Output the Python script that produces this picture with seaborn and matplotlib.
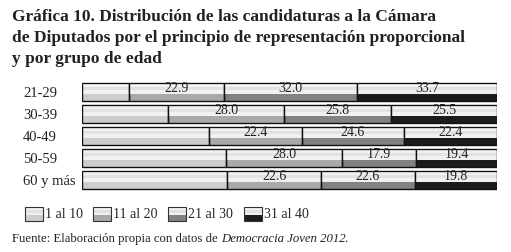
import matplotlib
matplotlib.use("Agg")
import matplotlib.pyplot as plt
import seaborn as sns
import pandas as pd
import numpy as np
from matplotlib.patches import Rectangle
from matplotlib.legend_handler import HandlerBase

grupos = ["21-29", "30-39", "40-49", "50-59", "60 y más"]
series = ["1 al 10", "11 al 20", "21 al 30", "31 al 40"]
s1 = [11.4, 20.7, 30.6, 34.7, 35.0]
s2 = [22.9, 28.0, 22.4, 28.0, 22.6]
s3 = [32.0, 25.8, 24.6, 17.9, 22.6]
s4 = [33.7, 25.5, 22.4, 19.4, 19.8]
colores = ["#cdcdcd", "#a9a9a9", "#828282", "#1c1c1c"]

sns.set_theme(style="white")
plt.rcParams["font.family"] = ["Liberation Serif", "DejaVu Serif"]

vals = np.array([s1, s2, s3, s4])
cum = np.cumsum(vals, axis=0)
lefts = cum - vals

fig = plt.figure(figsize=(5.11, 2.52), dpi=100)
ax = fig.add_axes([0.1605, 0.244, 0.812, 0.4345])

H = 0.82
for k in range(3, -1, -1):
    df = pd.DataFrame({"grupo": grupos, "valor": cum[k]})
    sns.barplot(data=df, y="grupo", x="valor", color=colores[k], orient="h",
                width=H, ax=ax, saturation=1, edgecolor="none", linewidth=0)

pos = np.arange(len(grupos))
# light glossy top part
for k in range(4):
    ax.barh(pos - H / 2, vals[k], left=lefts[k], height=H * 0.62, align="edge",
            color="#f1f1f1", linewidth=0)
    ax.barh(pos - H / 2, vals[k], left=lefts[k], height=H * 0.14, align="edge",
            color="#fbfbfb", linewidth=0)
    ax.barh(pos - H / 2 + H * 0.22, vals[k], left=lefts[k], height=H * 0.18, align="edge",
            color="#e2e2e2", linewidth=0)
    ax.barh(pos, vals[k], left=lefts[k], height=H, fill=False,
            edgecolor="#111111", linewidth=1.0)

for k in range(1, 4):
    for i in range(len(grupos)):
        ax.text(lefts[k][i] + vals[k][i] / 2, pos[i] - 0.14, f"{vals[k][i]:.1f}",
                ha="center", va="center", fontsize=10, color="#222222")

ax.set_xlim(0, 100)
ax.set_ylim(len(grupos) - 0.5, -0.5)
ax.set_xlabel("")
ax.set_ylabel("")
ax.set_xticks([])
ax.set_yticks(pos)
ax.set_yticklabels(grupos, fontsize=10.5, color="#222222", ha="left")
ax.tick_params(axis="y", length=0, pad=42.5)
for sp in ax.spines.values():
    sp.set_visible(False)


class GlossHandler(HandlerBase):
    def __init__(self, color):
        super().__init__()
        self.color = color

    def create_artists(self, legend, orig_handle, xd, yd, w, h, fontsize, trans):
        arts = []
        x0, y0 = -xd, -yd
        arts.append(Rectangle((x0, y0), w, h, facecolor=self.color, edgecolor="none", transform=trans))
        arts.append(Rectangle((x0, y0 + h * 0.4), w, h * 0.6, facecolor="#f1f1f1", edgecolor="none", transform=trans))
        arts.append(Rectangle((x0, y0 + h * 0.55), w, h * 0.2, facecolor="#e2e2e2", edgecolor="none", transform=trans))
        arts.append(Rectangle((x0, y0), w, h, facecolor="none", edgecolor="#333333", linewidth=0.8, transform=trans))
        return arts


handles = [Rectangle((0, 0), 1, 1) for _ in series]
hmap = {handles[i]: GlossHandler(colores[i]) for i in range(4)}
fig.legend(handles, series, handler_map=hmap, loc="center left",
           bbox_to_anchor=(0.048, 0.151), ncol=4, frameon=False, fontsize=10,
           handlelength=1.3, handleheight=1.2, handletextpad=0.15, columnspacing=0.75,
           borderaxespad=0, borderpad=0)

fig.text(0.024, 0.965, "Gráfica 10. Distribución de las candidaturas a la Cámara\n"
         "de Diputados por el principio de representación proporcional\n"
         "y por grupo de edad", ha="left", va="top", fontsize=12.5,
         fontweight="bold", color="#222222", linespacing=1.41)

fig.text(0.024, 0.052, "Fuente: Elaboración propia con datos de ", ha="left", va="center",
         fontsize=9.2, color="#222222")
fig.canvas.draw()
t = fig.texts[-1]
bb = t.get_window_extent(renderer=fig.canvas.get_renderer())
fig.text(bb.x1 / fig.bbox.width, 0.052, "Democracia Joven 2012", ha="left", va="center",
         fontsize=9.2, style="italic", color="#222222")
t2 = fig.texts[-1]
bb2 = t2.get_window_extent(renderer=fig.canvas.get_renderer())
fig.text((bb2.x1 - 1.5) / fig.bbox.width, 0.052, ".", ha="left", va="center",
         fontsize=9.2, color="#222222")

fig.savefig("out.png", dpi=100, facecolor="white")
